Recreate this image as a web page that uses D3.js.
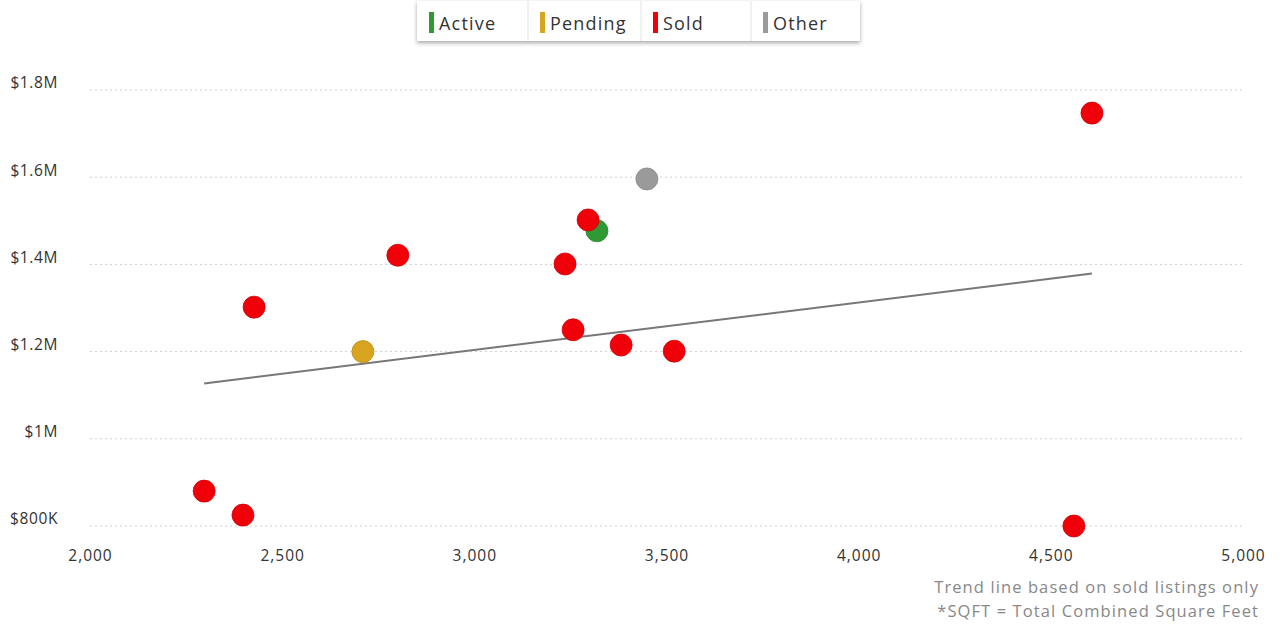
<!DOCTYPE html>
<html><head><meta charset="utf-8">
<script src="https://cdn.jsdelivr.net/npm/d3@7"></script>
<style>
body{margin:0;background:#fff;font-family:"Open Sans",sans-serif;}
svg{display:block}
</style></head>
<body>
<svg id="c" width="1280" height="629"></svg>
<script>
// ---- data ----
const statuses = ["Active","Pending","Sold","Other"];
const statusColors = ["#2f9a33","#d9a521","#f00008","#9a9a9a"];
const activeSqft = [3319];
const activePrice = [1477000];
const pendingSqft = [2710];
const pendingPrice = [1200000];
const otherSqft = [3449];
const otherPrice = [1596000];
const soldSqft = [4607, 2801, 2427, 3296, 3236, 3257, 3382, 3520, 2297, 2398, 4560];
const soldPrice = [1747000, 1421000, 1302000, 1502000, 1401000, 1250000, 1215000, 1201000, 880000, 825000, 800000];
const xTicks = [2000, 2500, 3000, 3500, 4000, 4500, 5000];
const yTicks = [800000, 1000000, 1200000, 1400000, 1600000, 1800000];
const yTickLabels = ["$800K","$1M","$1.2M","$1.4M","$1.6M","$1.8M"];
const notes = ["Trend line based on sold listings only","*SQFT = Total Combined Square Feet"];

const svg = d3.select("#c");
const x = d3.scaleLinear().domain([2000,5000]).range([90,1243]);
const y = d3.scaleLinear().domain([800000,1800000]).range([526,90]);

// grid
const grid = svg.append("g");
grid.selectAll("line").data(yTicks).join("line")
  .attr("x1", x(2000)).attr("x2", x(5000))
  .attr("y1", d=>y(d)).attr("y2", d=>y(d))
  .attr("stroke","#cfcfcf").attr("stroke-width",1).attr("stroke-dasharray","2,3");

// y axis labels
const yAxis = d3.axisLeft(y).tickValues(yTicks).tickSize(0).tickPadding(0)
  .tickFormat((d,i)=>yTickLabels[i]);
const ya = svg.append("g").attr("transform","translate(58,-7)").call(yAxis);
ya.select(".domain").remove();
ya.selectAll("text").attr("font-family","Open Sans, sans-serif").attr("font-size",15.5)
  .attr("letter-spacing","0.6px").attr("fill","#333");

// x axis labels
const xAxis = d3.axisBottom(x).tickValues(xTicks).tickSize(0).tickPadding(0)
  .tickFormat(d3.format(","));
const xa = svg.append("g").attr("transform","translate(0,550)").call(xAxis);
xa.select(".domain").remove();
xa.selectAll("text").attr("font-family","Open Sans, sans-serif").attr("font-size",15.5)
  .attr("letter-spacing","1px").attr("fill","#333");

// trend line (least squares on sold)
const mx = d3.mean(soldSqft), my = d3.mean(soldPrice);
let num=0, den=0;
soldSqft.forEach((v,i)=>{num+=(v-mx)*(soldPrice[i]-my); den+=(v-mx)*(v-mx);});
const slope = num/den, icpt = my - slope*mx;
const tx = d3.extent(soldSqft);
svg.append("line")
  .attr("x1",x(tx[0])).attr("y1",y(icpt+slope*tx[0]))
  .attr("x2",x(tx[1])).attr("y2",y(icpt+slope*tx[1]))
  .attr("stroke","#777").attr("stroke-width",2);

// points
function drawPts(xs, ys, col){
  svg.append("g").selectAll("circle").data(xs).join("circle")
    .attr("cx",d=>x(d)).attr("cy",(d,i)=>y(ys[i])).attr("r",11)
    .attr("fill",col).attr("stroke",d3.color(col).darker(0.4)).attr("stroke-width",0.8);
}
drawPts(activeSqft, activePrice, statusColors[0]);
drawPts(pendingSqft, pendingPrice, statusColors[1]);
drawPts(otherSqft, otherPrice, statusColors[3]);
drawPts(soldSqft, soldPrice, statusColors[2]);

// legend
const defs = svg.append("defs");
const f = defs.append("filter").attr("id","sh").attr("x","-10%").attr("y","-30%").attr("width","120%").attr("height","180%");
f.append("feDropShadow").attr("dx",0).attr("dy",2).attr("stdDeviation",2).attr("flood-color","#000").attr("flood-opacity",0.35);
const lg = svg.append("g");
const lx0 = 417, lw = 443, lyTop = 1, lh = 40;
lg.append("rect").attr("x",lx0).attr("y",lyTop).attr("width",lw).attr("height",lh)
  .attr("fill","#fff").attr("filter","url(#sh)");
const cellX = [417, 528, 641, 751];
lg.selectAll("line.sep").data(cellX.slice(1)).join("line").attr("class","sep")
  .attr("x1",d=>d).attr("x2",d=>d).attr("y1",lyTop).attr("y2",lyTop+lh)
  .attr("stroke","#e2e2e2");
const items = lg.selectAll("g.it").data(statuses).join("g").attr("class","it")
  .attr("transform",(d,i)=>`translate(${cellX[i]},0)`);
items.append("rect").attr("x",12).attr("y",12).attr("width",5).attr("height",21)
  .attr("fill",(d,i)=>statusColors[i]);
items.append("text").attr("x",22).attr("y",30).text(d=>d)
  .attr("font-family","Open Sans, sans-serif").attr("font-size",18).attr("letter-spacing","1.2px").attr("fill","#333");

// notes
svg.append("g").selectAll("text").data(notes).join("text")
  .attr("x",1259).attr("y",(d,i)=>593+i*24).attr("text-anchor","end")
  .attr("font-family","Open Sans, sans-serif").attr("font-size",16.5).attr("letter-spacing","1.1px")
  .attr("fill","#888").text(d=>d);
</script>
</body></html>
